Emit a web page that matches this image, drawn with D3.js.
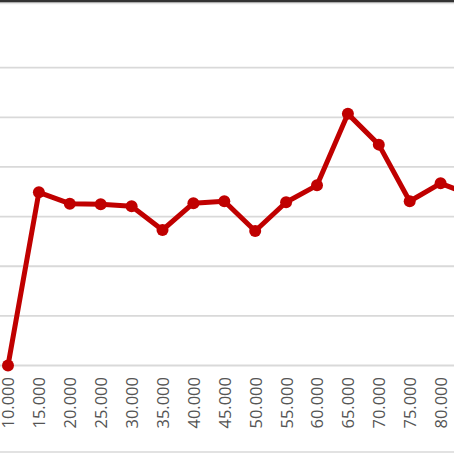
<!DOCTYPE html>
<html>
<head>
<meta charset="utf-8">
<script src="https://cdn.jsdelivr.net/npm/d3@7"></script>
<style>
  body { margin: 0; background: #fff; }
  svg { display: block; }
</style>
</head>
<body>
<div id="chart"></div>
<script>
// Data (y axis labels are cropped, so units are relative)
var categories = ["10.000", "15.000", "20.000", "25.000", "30.000", "35.000", "40.000", "45.000",
                  "50.000", "55.000", "60.000", "65.000", "70.000", "75.000", "80.000", "85.000"];
var values = [0, 34.9, 32.6, 32.5, 32.1, 27.3, 32.7, 33.1, 27.1, 32.9, 36.3, 50.7, 44.5, 33.1, 36.7, 34.3];
var yTicks = [0, 10, 20, 30, 40, 50, 60];

var width = 454, height = 454;

var svg = d3.select("#chart")
  .append("svg")
    .attr("width", width)
    .attr("height", height);

// Scales
var x = d3.scalePoint()
  .domain(categories)
  .range([8, 8 + 30.9 * (categories.length - 1)]);

var y = d3.scaleLinear()
  .domain([0, 60])
  .range([365.5, 67.7]);

// Frame bits at top and bottom
svg.append("rect")
  .attr("x", 0).attr("y", 0)
  .attr("width", width).attr("height", 2.5)
  .attr("fill", "#333");
svg.append("line")
  .attr("x1", 0).attr("x2", width)
  .attr("y1", 3.5).attr("y2", 3.5)
  .attr("stroke", "#e6e6e6").attr("stroke-width", 1.5);
svg.append("line")
  .attr("x1", 0).attr("x2", width)
  .attr("y1", 452).attr("y2", 452)
  .attr("stroke", "#d9d9d9").attr("stroke-width", 1.5);

// Gridlines
svg.append("g")
  .selectAll("line")
  .data(yTicks)
  .join("line")
    .attr("x1", 0)
    .attr("x2", width)
    .attr("y1", function(d) { return y(d); })
    .attr("y2", function(d) { return y(d); })
    .attr("stroke", "#d9d9d9")
    .attr("stroke-width", 1.8);

// X axis labels (only the ones inside the visible area)
var xAxis = svg.append("g")
  .attr("transform", "translate(0,377)")
  .call(d3.axisBottom(x)
    .tickValues(categories.filter(function(c) { return x(c) < width; }))
    .tickSize(0).tickPadding(0));
xAxis.select(".domain").remove();
xAxis.selectAll("text")
  .attr("transform", "rotate(-90)")
  .attr("x", 0)
  .attr("y", 0)
  .attr("dy", "0.36em")
  .style("text-anchor", "end")
  .style("font-family", "'Open Sans', sans-serif")
  .style("font-size", "16.5px")
  .attr("fill", "#555");

// Line
var line = d3.line()
  .x(function(d, i) { return x(categories[i]); })
  .y(function(d) { return y(d); });

svg.append("path")
  .datum(values)
  .attr("fill", "none")
  .attr("stroke", "#C00000")
  .attr("stroke-width", 5)
  .attr("stroke-linejoin", "round")
  .attr("d", line);

// Markers
svg.append("g")
  .selectAll("circle")
  .data(values)
  .join("circle")
    .attr("cx", function(d, i) { return x(categories[i]); })
    .attr("cy", function(d) { return y(d); })
    .attr("r", 6)
    .attr("fill", "#C00000");
</script>
</body>
</html>
